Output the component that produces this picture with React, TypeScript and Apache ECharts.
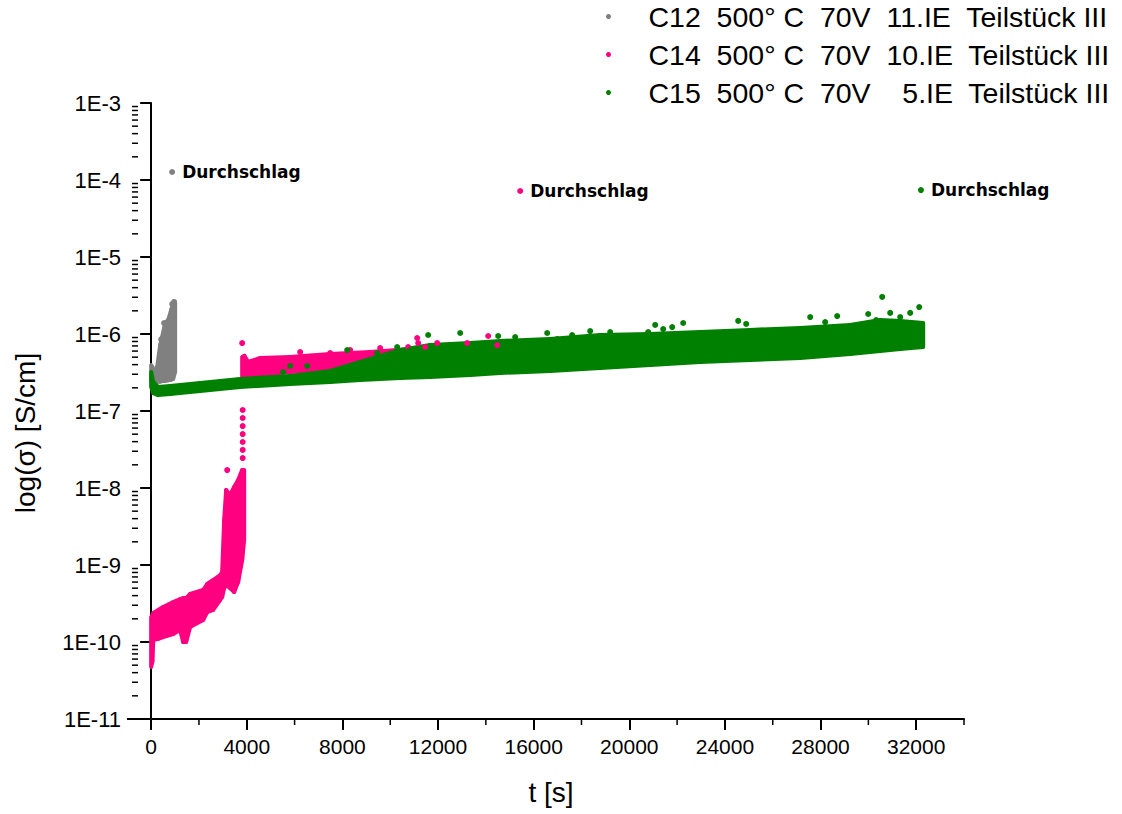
import React, { useEffect, useRef } from 'react';
import * as echarts from 'echarts';

// ---------- labels ----------
const seriesNames = [
  'C12  500° C  70V  11.IE  Teilstück III',
  'C14  500° C  70V  10.IE  Teilstück III',
  'C15  500° C  70V    5.IE  Teilstück III',
];
const seriesColors = ['#808080', '#ff0080', '#008000'];
const breakdownLabel = 'Durchschlag';

// ---------- axes ----------
const X_MIN = -550;
const X_MAX = 34000;
const Y_MIN = 1e-11;
const Y_MAX = 1e-3;
const xTicks = [0, 4000, 8000, 12000, 16000, 20000, 24000, 28000, 32000];
const xMinorTicks = [2000, 6000, 10000, 14000, 18000, 22000, 26000, 30000, 34000];
const yTicks = [1e-11, 1e-10, 1e-9, 1e-8, 1e-7, 1e-6, 1e-5, 1e-4, 1e-3];
const yMinorFactors = [2, 3, 4, 5, 6, 7, 8, 9];

// ---------- C12 (gray): dense cloud envelope ----------
const c12BandT = [0, 60, 130, 251, 376, 460, 585, 711, 836, 920, 1004];
const c12BandLow = [2.53e-7, 2.45e-7, 2.4e-7, 2.4e-7, 2.4e-7, 2.45e-7, 2.45e-7, 2.5e-7, 2.55e-7, 2.6e-7, 3.21e-7];
const c12BandHigh = [3.95e-7, 3.7e-7, 2.9e-7, 3.72e-7, 7.19e-7, 9.14e-7, 1.39e-6, 1.52e-6, 2.05e-6, 2.53e-6, 2.53e-6];
const c12PointT = [540, 420, 880, 960];
const c12PointV = [1.39e-6, 8.5e-7, 2.45e-6, 2.61e-6];
const c12Breakdown = [878, 1.27e-4];

// ---------- C14 (pink): low cloud, spike and high cloud ----------
const c14LowBandT = [0, 50, 90, 300, 500, 920, 1213, 1339, 1464, 1631, 2175, 2343, 2594, 2886, 2970, 3054, 3137, 3305, 3472, 3639, 3807, 3890];
const c14LowBandLow = [4.73e-11, 5.5e-11, 1.06e-10, 1.1e-10, 1.16e-10, 1.27e-10, 1.43e-10, 1.0e-10, 1.0e-10, 1.57e-10, 1.93e-10, 2.45e-10, 2.61e-10, 3.51e-10, 3.84e-10, 5.0e-10, 5.5e-10, 5.02e-10, 4.46e-10, 6.01e-10, 1.16e-9, 2.11e-9];
const c14LowBandHigh = [2.11e-10, 2.2e-10, 2.38e-10, 2.6e-10, 2.85e-10, 3.31e-10, 3.61e-10, 3.72e-10, 3.72e-10, 4.2e-10, 4.73e-10, 5.66e-10, 6.38e-10, 7.41e-10, 8.11e-10, 3.84e-9, 9.42e-9, 8.11e-9, 1.03e-8, 1.27e-8, 1.71e-8, 1.71e-8];
const c14HighBandT = [3807, 3900, 4058, 4560, 5815, 7488, 9161, 10834, 12507, 14180];
const c14HighBandLow = [2.77e-7, 2.7e-7, 2.69e-7, 2.94e-7, 3.21e-7, 3.41e-7, 3.61e-7, 3.84e-7, 3.84e-7, 4.08e-7];
const c14HighBandHigh = [5.02e-7, 5.2e-7, 4.33e-7, 4.88e-7, 5.02e-7, 5.5e-7, 5.83e-7, 6.38e-7, 6.78e-7, 6.98e-7];
const c14PointT = [3830, 3830, 3830, 3830, 3830, 3830, 3830, 3180, 3555, 3807, 6233, 7488, 8324, 9579, 10750, 11127, 11169, 11461, 11964, 13218, 14097, 14473];
const c14PointV = [1.03e-7, 8.11e-8, 6.38e-8, 5.02e-8, 3.96e-8, 3.12e-8, 2.45e-8, 1.71e-8, 1.03e-8, 7.63e-7, 5.83e-7, 5.66e-7, 6.19e-7, 6.58e-7, 6.78e-7, 8.87e-7, 7.63e-7, 6.78e-7, 7.63e-7, 7.63e-7, 9.42e-7, 7.19e-7];
const c14Breakdown = [15436, 7.2e-5];

// ---------- C15 (green): dense cloud envelope ----------
const c15BandT = [0, 84, 293, 795, 2050, 3723, 5815, 7488, 8743, 10416, 11671, 13344, 14599, 16690, 18782, 20874, 22965, 25057, 27148, 29240, 30494, 31331, 32293];
const c15BandLow = [2.05e-7, 1.71e-7, 1.61e-7, 1.66e-7, 1.82e-7, 2.05e-7, 2.24e-7, 2.38e-7, 2.53e-7, 2.69e-7, 2.77e-7, 2.94e-7, 3.12e-7, 3.31e-7, 3.61e-7, 3.95e-7, 4.33e-7, 4.59e-7, 4.88e-7, 5.5e-7, 6.01e-7, 6.38e-7, 6.78e-7];
const c15BandHigh = [3.21e-7, 2.38e-7, 2.05e-7, 2.11e-7, 2.31e-7, 2.61e-7, 2.85e-7, 3.31e-7, 4.33e-7, 6.19e-7, 7.19e-7, 7.63e-7, 8.11e-7, 8.61e-7, 9.7e-7, 1.0e-6, 1.06e-6, 1.13e-6, 1.2e-6, 1.31e-6, 1.52e-6, 1.48e-6, 1.39e-6];
const c15PointT = [5522, 5815, 6525, 8199, 9454, 10290, 10834, 11587, 12926, 14515, 15226, 16565, 16983, 17610, 18363, 19200, 20790, 21083, 21417, 21794, 22254, 24554, 24889, 27566, 28193, 28695, 29992, 30327, 30578, 30912, 31331, 31749, 32126];
const c15PointV = [3.21e-7, 3.84e-7, 3.84e-7, 6.19e-7, 5.66e-7, 6.78e-7, 6.19e-7, 9.7e-7, 1.03e-6, 9.42e-7, 9.14e-7, 1.03e-6, 8.61e-7, 9.7e-7, 1.09e-6, 1.06e-6, 1.06e-6, 1.31e-6, 1.16e-6, 1.23e-6, 1.39e-6, 1.48e-6, 1.35e-6, 1.66e-6, 1.43e-6, 1.71e-6, 1.82e-6, 1.52e-6, 3.03e-6, 1.88e-6, 1.66e-6, 1.88e-6, 2.24e-6];
const c15Breakdown = [32200, 7.4e-5];

// ---------- helpers ----------
function bandSegments(t: number[], lo: number[], hi: number[]) {
  const out: number[][] = [];
  for (let i = 0; i < t.length - 1; i++) {
    out.push([t[i], lo[i], hi[i], t[i + 1], lo[i + 1], hi[i + 1]]);
  }
  return out;
}

function bandSeries(name: string, color: string, t: number[], lo: number[], hi: number[]) {
  return {
    type: 'custom',
    name,
    silent: true,
    data: bandSegments(t, lo, hi),
    encode: { x: [0, 3], y: [1, 2, 4, 5] },
    renderItem: (params: any, api: any) => {
      const a = api.coord([api.value(0), api.value(1)]);
      const b = api.coord([api.value(3), api.value(4)]);
      const c = api.coord([api.value(3), api.value(5)]);
      const d = api.coord([api.value(0), api.value(2)]);
      return {
        type: 'polygon',
        shape: { points: [a, b, c, d] },
        style: { fill: color, stroke: color, lineWidth: 4, lineJoin: 'round' },
      };
    },
  };
}

function pointSeries(name: string, color: string, t: number[], v: number[], brk: number[]) {
  const data: any[] = t.map((x, i) => [x, v[i]]);
  data.push({
    value: brk,
    label: {
      show: true,
      position: 'right',
      distance: 7,
      formatter: breakdownLabel,
      fontFamily: 'DejaVu Sans',
      fontWeight: 'bold',
      fontSize: 17,
      color: '#000',
    },
  });
  return {
    type: 'scatter',
    name,
    symbol: 'circle',
    symbolSize: 6,
    itemStyle: { color, opacity: 1 },
    data,
  };
}

const minorTickData: number[][] = [];
for (let i = 0; i < yTicks.length - 1; i++) {
  for (const f of yMinorFactors) minorTickData.push([X_MIN, yTicks[i] * f, 0]);
}
for (const m of xMinorTicks) minorTickData.push([m, Y_MIN, 1]);

export default function App() {
  const ref = useRef<HTMLDivElement>(null);
  useEffect(() => {
    if (!ref.current) return;
    const chart = echarts.init(ref.current, null, { renderer: 'svg' });
    const font = 'Liberation Sans, Arial, sans-serif';
    chart.setOption({
      animation: false,
      backgroundColor: '#fff',
      grid: { left: 138, right: 158, top: 103, bottom: 95, containLabel: false },
      legend: {
        data: seriesNames,
        orient: 'vertical',
        left: 601,
        top: -6,
        icon: 'circle',
        itemWidth: 70,
        itemHeight: 5,
        itemGap: 3,
        selectedMode: false,
        textStyle: { fontSize: 28.5, lineHeight: 35, color: '#000', fontFamily: font },
      },
      xAxis: {
        type: 'value',
        min: X_MIN,
        max: X_MAX,
        name: 't [s]',
        nameLocation: 'middle',
        nameGap: 59,
        nameTextStyle: { fontSize: 28, color: '#000', fontFamily: font },
        axisLine: { lineStyle: { color: '#000', width: 2 } },
        axisTick: { customValues: xTicks, length: 11, lineStyle: { color: '#000', width: 2 } },
        axisLabel: {
          customValues: xTicks,
          fontSize: 21,
          margin: 17,
          color: '#000',
          fontFamily: font,
          formatter: (v: number) => String(v),
        },
        splitLine: { show: false },
      },
      yAxis: {
        type: 'log',
        logBase: 10,
        min: Y_MIN,
        max: Y_MAX,
        name: 'log(σ) [S/cm]',
        nameLocation: 'middle',
        nameGap: 99,
        nameRotate: 90,
        nameTextStyle: { fontSize: 28, color: '#000', fontFamily: font, padding: [0, 44, 0, 0] },
        axisLine: { lineStyle: { color: '#000', width: 2 } },
        axisTick: { customValues: yTicks, length: 11, lineStyle: { color: '#000', width: 2 } },
        axisLabel: {
          customValues: yTicks,
          fontSize: 22,
          margin: 17,
          color: '#000',
          fontFamily: font,
          formatter: (v: number) => '1E' + Math.round(Math.log10(v)),
        },
        splitLine: { show: false },
      },
      graphic: [
        { type: 'line', shape: { x1: 127, y1: 719, x2: 138, y2: 719 }, style: { stroke: '#000', lineWidth: 2 } },
      ],
      series: [
        pointSeries(seriesNames[0], seriesColors[0], c12PointT, c12PointV, c12Breakdown),
        bandSeries(seriesNames[0], seriesColors[0], c12BandT, c12BandLow, c12BandHigh),
        pointSeries(seriesNames[1], seriesColors[1], c14PointT, c14PointV, c14Breakdown),
        bandSeries(seriesNames[1], seriesColors[1], c14LowBandT, c14LowBandLow, c14LowBandHigh),
        bandSeries(seriesNames[1], seriesColors[1], c14HighBandT, c14HighBandLow, c14HighBandHigh),
        pointSeries(seriesNames[2], seriesColors[2], c15PointT, c15PointV, c15Breakdown),
        bandSeries(seriesNames[2], seriesColors[2], c15BandT, c15BandLow, c15BandHigh),
        {
          type: 'custom',
          name: 'minorTicks',
          silent: true,
          clip: false,
          data: minorTickData,
          renderItem: (params: any, api: any) => {
            const p = api.coord([api.value(0), api.value(1)]);
            const kind = api.value(2);
            const shape = kind === 0
              ? { x1: p[0] - 6, y1: p[1], x2: p[0], y2: p[1] }
              : { x1: p[0], y1: p[1], x2: p[0], y2: p[1] + 6 };
            return { type: 'line', shape, style: { stroke: '#000', lineWidth: 1.5 } };
          },
        },
      ],
    });
    return () => chart.dispose();
  }, []);
  return <div ref={ref} style={{ position: 'fixed', left: 0, top: 0, width: 1122, height: 814 }} />;
}
